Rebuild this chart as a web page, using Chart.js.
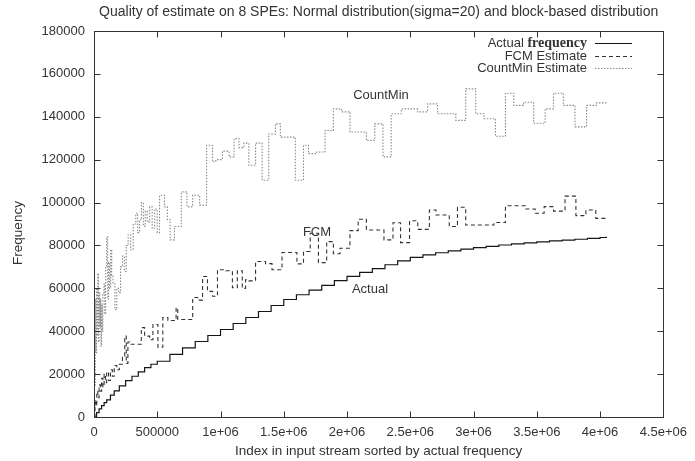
<!DOCTYPE html>
<html><head><meta charset="utf-8">
<script src="https://cdn.jsdelivr.net/npm/chart.js@4.4.1/dist/chart.umd.min.js"></script>
<style>html,body{margin:0;padding:0;background:#fff}#wrap{width:695px;height:461px;position:relative}</style>
</head><body><div id="wrap"><canvas id="c" width="695" height="461"></canvas></div>
<script>
const chartTitle = "Quality of estimate on 8 SPEs: Normal distribution(sigma=20) and block-based distribution";
const xAxisTitle = "Index in input stream sorted by actual frequency";
const yAxisTitle = "Frequency";
const xTickValues = [0,500000,1000000,1500000,2000000,2500000,3000000,3500000,4000000,4500000];
const xTickLabels = ["0","500000","1e+06","1.5e+06","2e+06","2.5e+06","3e+06","3.5e+06","4e+06","4.5e+06"];
const yTickValues = [0,20000,40000,60000,80000,100000,120000,140000,160000,180000];
const yTickLabels = ["0","20000","40000","60000","80000","100000","120000","140000","160000","180000"];
const seriesNames = ["Actual frequency","FCM Estimate","CountMin Estimate"];
const curveLabels = ["Actual","FCM","CountMin"];

// Actual frequency (step start index, value)
const actualX = [0,20000,40000,60000,80000,100000,130000,160000,200000,250000,300000,350000,400000,450000,500000,600000,700000,800000,900000,1000000,1100000,1200000,1300000,1400000,1500000,1600000,1700000,1800000,1900000,2000000,2100000,2200000,2300000,2400000,2500000,2600000,2700000,2800000,2900000,3000000,3100000,3200000,3300000,3400000,3500000,3600000,3700000,3800000,3900000,4000000,4050000];
const actualY = [0,2000,3800,5300,6700,8000,10200,12200,14500,17000,19000,21000,23000,24600,26000,29200,32200,35200,38000,40800,43600,46400,49200,52000,54800,57000,59200,61400,63600,65600,67400,69200,71000,72800,74400,75600,76600,77500,78300,79000,79600,80200,80700,81200,81700,82100,82500,82900,83300,83700,84000];

// FCM estimate
const fcmX = [0,8000,15000,22000,30000,40000,50000,60000,70000,80000,90000,100000,115000,130000,145000,160000,180000,200000,225000,243000,255000,268000,283000,374000,400000,440000,466000,505000,544000,584000,649000,662000,780000,819000,858000,897000,937000,976000,1042000,1094000,1133000,1172000,1198000,1224000,1277000,1356000,1407000,1486000,1604000,1656000,1709000,1774000,1839000,1892000,1944000,2023000,2088000,2153000,2292000,2363000,2423000,2494000,2559000,2651000,2703000,2808000,2873000,2938000,3161000,3252000,3409000,3487000,3558000,3632000,3723000,3809000,3888000,3966000,4050000];
const fcmY = [0,8000,5000,12000,9000,15000,12000,18000,14000,20000,16000,21000,17000,22000,19000,24000,22000,24600,27800,37700,25000,35000,33900,41700,37700,36000,43100,32500,46400,45000,51000,45500,55700,54500,65500,58600,56300,68700,68200,60300,68200,60000,64000,63500,72500,71500,68700,76700,71400,77200,85700,72000,81800,76100,78700,86900,92200,87200,82600,90600,81300,91500,87500,96500,94200,88800,97800,89500,90700,98500,97000,95000,98100,96000,103000,93900,96500,92600,92600];

// CountMin estimate
const cmX = [0,3000,6000,10000,15000,20000,25000,30000,35000,40000,45000,50000,55000,60000,65000,70000,78000,85000,92000,100000,108000,116000,124000,132000,140000,150000,165000,180000,195000,210000,225000,240000,255000,270000,290000,310000,330000,345000,360000,375000,390000,405000,420000,440000,460000,480000,500000,518000,557000,580000,602000,636000,690000,735000,780000,835000,890000,937000,963000,1015000,1068000,1107000,1146000,1185000,1224000,1277000,1329000,1381000,1434000,1473000,1591000,1656000,1695000,1761000,1826000,1892000,1957000,2023000,2153000,2219000,2284000,2349000,2428000,2559000,2637000,2716000,2860000,2938000,3017000,3082000,3173000,3252000,3318000,3396000,3475000,3566000,3632000,3710000,3802000,3893000,3972000,4050000];
const cmY = [8000,45000,15000,55000,30000,60000,38000,67000,35000,58000,42000,55000,33000,52000,40000,57000,62000,48000,70000,84000,55000,72000,60000,78000,66000,62000,50000,60000,58000,70000,75000,68000,80000,85000,78000,90000,95000,86000,92000,100000,89000,96000,91000,98000,88000,97000,86000,103400,98000,92000,82600,88800,105000,98000,103400,98800,126700,119000,120000,124000,121300,129800,125600,127700,117400,127700,110400,132000,136700,130500,110400,126700,122800,123600,133600,143700,142300,132900,129000,136700,121300,141400,143700,142300,146000,141400,138300,153000,141400,139100,130900,151000,145300,146800,137000,143700,151000,145300,135300,145300,146500,146500];

const toPts = (xs, ys) => xs.map((v, i) => ({x: v, y: ys[i]}));
const SANS = '"Liberation Sans", Arial, sans-serif';
const SERIF = '"Liberation Serif", "Times New Roman", serif';
const TXT = '#333';

const styles = [
  {color:'#151515', width:1.2, dash:[]},
  {color:'#333333', width:1.1, dash:[4,3]},
  {color:'#8a8a8a', width:1.1, dash:[1.5,1.5]}
];

const decor = {
  id: 'decor',
  afterDraw(chart) {
    const {ctx, chartArea: a, scales: {x, y}} = chart;
    ctx.save();
    const L = Math.round(a.left) + 0.5, R = Math.round(a.right) + 0.5;
    const T = Math.round(a.top) + 0.5, B = Math.round(a.bottom) + 0.5;
    ctx.strokeStyle = '#333'; ctx.lineWidth = 1; ctx.setLineDash([]);
    ctx.strokeRect(L, T, R - L, B - T);
    ctx.beginPath();
    xTickValues.forEach(v => {
      const p = Math.round(x.getPixelForValue(v)) + 0.5;
      ctx.moveTo(p, B); ctx.lineTo(p, B - 6);
      ctx.moveTo(p, T); ctx.lineTo(p, T + 6);
    });
    yTickValues.forEach(v => {
      const p = Math.round(y.getPixelForValue(v)) + 0.5;
      ctx.moveTo(L, p); ctx.lineTo(L + 6, p);
      ctx.moveTo(R, p); ctx.lineTo(R - 6, p);
    });
    ctx.stroke();

    ctx.fillStyle = TXT;
    // title
    ctx.font = '14px ' + SANS; ctx.textAlign = 'center'; ctx.textBaseline = 'middle';
    ctx.fillText(chartTitle, (a.left + a.right) / 2, 12);
    // axis titles
    ctx.font = '13.5px ' + SANS;
    ctx.fillText(xAxisTitle, (a.left + a.right) / 2, 451);
    ctx.save(); ctx.translate(18, 233); ctx.rotate(-Math.PI / 2);
    ctx.fillText(yAxisTitle, 0, 0); ctx.restore();

    // legend
    const rowY = [43, 56, 68];
    const textR = 587, lx0 = 595, lx1 = 632;
    ctx.textAlign = 'right';
    const parts = seriesNames[0].split(' ');
    ctx.font = 'bold 14px ' + SERIF;
    const w2 = ctx.measureText(parts[1]).width;
    ctx.fillText(parts[1], textR, rowY[0]);
    ctx.font = '13px ' + SANS;
    ctx.fillText(parts[0] + ' ', textR - w2, rowY[0]);
    ctx.fillText(seriesNames[1], textR, rowY[1]);
    ctx.fillText(seriesNames[2], textR, rowY[2]);
    styles.forEach((s, i) => {
      ctx.beginPath(); ctx.strokeStyle = s.color; ctx.lineWidth = s.width; ctx.setLineDash(s.dash);
      ctx.moveTo(lx0, rowY[i] + 0.5); ctx.lineTo(lx1, rowY[i] + 0.5); ctx.stroke();
    });
    ctx.setLineDash([]);

    // curve labels
    ctx.textAlign = 'center'; ctx.font = '13px ' + SANS; ctx.fillStyle = TXT;
    ctx.fillText(curveLabels[0], 370, 289);
    ctx.fillText(curveLabels[1], 317, 232);
    ctx.fillText(curveLabels[2], 381, 95);
    ctx.restore();
  }
};

const mk = (label, xs, ys, s) => ({
  label, data: toPts(xs, ys), showLine: true, stepped: 'before',
  borderColor: s.color, borderWidth: s.width, borderDash: s.dash,
  pointRadius: 0, pointHoverRadius: 0, fill: false, tension: 0
});

new Chart(document.getElementById('c'), {
  type: 'scatter',
  data: {
    datasets: [
      mk(seriesNames[0], actualX, actualY, styles[0]),
      mk(seriesNames[1], fcmX, fcmY, styles[1]),
      mk(seriesNames[2], cmX, cmY, styles[2])
    ]
  },
  options: {
    responsive: false, animation: false, devicePixelRatio: 1,
    events: [],
    layout: {padding: {top: 31, right: 27, bottom: 0, left: 0}},
    plugins: {legend: {display: false}, title: {display: false}, tooltip: {enabled: false}},
    scales: {
      x: {
        type: 'linear', min: 0, max: 4500000,
        afterBuildTicks: ax => { ax.ticks = xTickValues.map(v => ({value: v})); },
        afterFit: sc => { sc.height = 44; },
        ticks: {
          autoSkip: false, maxRotation: 0, padding: 8, color: TXT,
          font: {family: SANS, size: 13},
          callback: (v) => xTickLabels[xTickValues.indexOf(v)]
        },
        grid: {display: false, drawTicks: false},
        border: {display: false}
      },
      y: {
        type: 'linear', min: 0, max: 180000,
        afterBuildTicks: ax => { ax.ticks = yTickValues.map(v => ({value: v})); },
        afterFit: sc => { sc.width = 94; },
        ticks: {
          autoSkip: false, padding: 9, color: TXT,
          font: {family: SANS, size: 13},
          callback: (v) => yTickLabels[yTickValues.indexOf(v)]
        },
        grid: {display: false, drawTicks: false},
        border: {display: false}
      }
    }
  },
  plugins: [decor]
});
</script>
</body></html>
